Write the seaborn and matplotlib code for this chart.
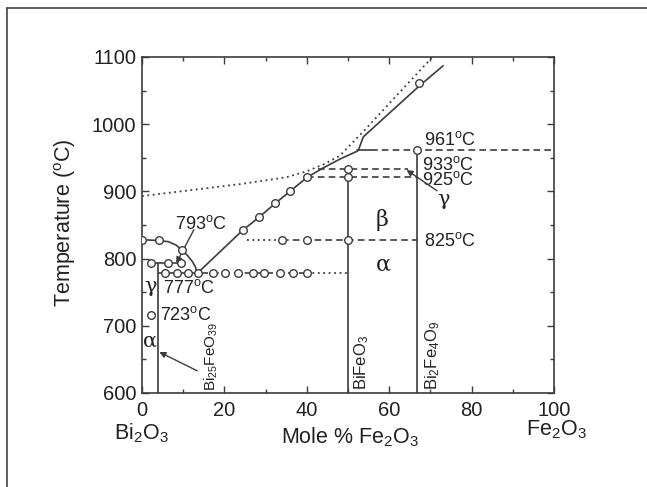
import matplotlib
matplotlib.use("Agg")
import matplotlib.pyplot as plt
import seaborn as sns
from matplotlib.lines import Line2D

# ---------------- data ----------------
# liquidus, Bi-rich side (eutectic -> 40 %)
liq_low_x = [13.4, 24.4, 28.5, 32.3, 35.9, 40.1, 44.0, 48.0, 52.3]
liq_low_t = [778, 842, 862, 882, 900, 921, 935, 948, 960]
liq_low_pts_x = [24.4, 28.5, 32.3, 35.9, 40.1]
liq_low_pts_t = [842, 862, 882, 900, 921]
# 961 °C segment (solid part)
seg961_x = [52.3, 55.7]
seg961_t = [961, 961]
# upper liquidus branch
liq_up_x = [52.5, 53.7, 57.8, 67.5, 73.1]
liq_up_t = [961, 981, 1004, 1058, 1087]
liq_up_pts_x = [67.3]
liq_up_pts_t = [1061]
# dotted (earlier reported) liquidus
dot_x = [0, 12, 24, 35, 40, 44, 48, 54, 62, 70.5]
dot_t = [893, 902, 911, 921, 930, 940, 953, 991, 1044, 1100]
# Bi-rich curve from ~828 °C down to the eutectic
curve_x = [0.0, 4.2, 6.5, 8.3, 9.6, 11.0, 12.3, 13.0, 13.4]
curve_t = [828, 827, 825, 820, 813, 805, 795, 787, 778]
curve_pts_x = [0.0, 4.2, 9.6]
curve_pts_t = [828, 827, 813]
# 793 °C line
l793_x = [2.1, 10.5]
l793_pts_x = [2.1, 6.2, 9.5]
# 777 °C line
l777_dash_x = [4.0, 40.1]
l777_dot_x = [40.1, 50.0]
l777_pts_x = [5.6, 8.4, 11.2, 13.6, 17.3, 20.1, 23.4, 26.9, 29.7, 33.5, 36.7, 40.1]
T777 = 778
# 723 °C point
p723_x, p723_t = [2.1], [716]
# 825 °C line
l825_dot_x = [25.4, 33.9]
l825_dash_x = [33.9, 66.7]
l825_pts_x = [33.9, 40.1, 50.0]
T825 = 828
# 933 / 925 / 961 lines
l933_x = [42.8, 64.5]
T933 = 934
l925_x = [40.1, 66.7]
T925 = 921
l961_x = [55.7, 100]
T961 = 961
# compounds (mole % Fe2O3) and top of their vertical lines
comp_x = [3.85, 50.0, 66.7]
comp_top = [793, 934, 961]
comp_pts_x = [50.0, 50.0, 66.7]
comp_pts_t = [934, 921, 961]

xticks = [0, 20, 40, 60, 80, 100]
yticks = [600, 700, 800, 900, 1000, 1100]

# ---------------- style ----------------
sns.set_theme(style="ticks")
plt.rcParams['font.family'] = ['Liberation Sans', 'DejaVu Sans']
plt.rcParams['mathtext.fontset'] = 'custom'
plt.rcParams['mathtext.rm'] = 'Liberation Sans'
plt.rcParams['mathtext.it'] = 'Liberation Sans'
C = '#3c3c3c'
TC = '#222222'
FS = 14.5
LFS = 15.5
AFS = 13

fig = plt.figure(figsize=(6.47, 4.87), dpi=100)
ax = fig.add_axes([142/647, 1-393/487, 412/647, 336/487])

lw = 1.2
def line(x, y, ls='-', lw=lw):
    sns.lineplot(x=x, y=y, ax=ax, color=C, lw=lw, linestyle=ls, sort=False, estimator=None)

def pts(x, y):
    sns.scatterplot(x=x, y=y, ax=ax, s=30, facecolor='white', edgecolor=C, linewidth=1.0, zorder=5)

dash = (0, (4, 2.5))
dots = (0, (1, 2))

line(liq_low_x, liq_low_t)
line(seg961_x, seg961_t)
line(liq_up_x, liq_up_t)
line(dot_x, dot_t, ls=dots, lw=1.3)
line(curve_x, curve_t)
line(l793_x, [793]*2)
line(l777_dash_x, [T777]*2, ls=dash)
line(l777_dot_x, [T777]*2, ls=dots, lw=1.3)
line(l825_dot_x, [T825]*2, ls=dots, lw=1.3)
line(l825_dash_x, [T825]*2, ls=dash)
line(l933_x, [T933]*2, ls=dash)
line(l925_x, [T925]*2, ls=dash)
line(l961_x, [T961]*2, ls=dash)
for cx, ct in zip(comp_x, comp_top):
    line([cx, cx], [600, ct])

pts(liq_low_pts_x, liq_low_pts_t)
pts(liq_up_pts_x, liq_up_pts_t)
pts(curve_pts_x, curve_pts_t)
pts(l793_pts_x, [793]*len(l793_pts_x))
pts(l777_pts_x, [T777]*len(l777_pts_x))
pts(p723_x, p723_t)
pts(l825_pts_x, [T825]*len(l825_pts_x))
pts(comp_pts_x, comp_pts_t)

ax.set_xlim(0, 100)
ax.set_ylim(600, 1100)
ax.set_xticks(xticks)
ax.set_yticks(yticks)
ax.set_xticks(range(10, 100, 20), minor=True)
ax.set_yticks(range(650, 1100, 100), minor=True)
ax.tick_params(which='both', direction='in', top=True, right=True, color=C,
               labelsize=FS, labelcolor=TC)
ax.tick_params(which='major', length=5, width=1)
ax.tick_params(which='minor', length=3, width=1)
ax.tick_params(axis='x', pad=6)
ax.tick_params(axis='y', pad=4)
for s in ax.spines.values():
    s.set_color(C)
    s.set_linewidth(1.2)
ax.set_xlabel('')
ax.set_ylabel('')

fig.text(65/647, 1-223/487, 'Temperature ($^{\\rm o}$C)', rotation=90, ha='center', va='center',
         fontsize=LFS, color=TC)
fig.text(350/647, 1-437/487, 'Mole % Fe$_2$O$_3$', ha='center', va='center', fontsize=LFS, color=TC)
fig.text(141/647, 1-433/487, 'Bi$_2$O$_3$', ha='center', va='center', fontsize=LFS, color=TC)
fig.text(556/647, 1-430/487, 'Fe$_2$O$_3$', ha='center', va='center', fontsize=LFS, color=TC)

tk = dict(fontsize=AFS, color=TC)
ax.text(14.2, 852, '793$^{\\rm o}$C', ha='center', va='center', **tk)
ax.text(5.0, 756, '777$^{\\rm o}$C', ha='left', va='center', **tk)
ax.text(4.4, 716, '723$^{\\rm o}$C', ha='left', va='center', **tk)
ax.text(68.4, 977, '961$^{\\rm o}$C', ha='left', va='center', **tk)
ax.text(68.0, 940, '933$^{\\rm o}$C', ha='left', va='center', **tk)
ax.text(68.0, 917, '925$^{\\rm o}$C', ha='left', va='center', **tk)
ax.text(68.4, 826, '825$^{\\rm o}$C', ha='left', va='center', **tk)

gk = dict(fontsize=15, color=TC, family='DejaVu Serif')
ax.text(2.0, 758, 'γ', ha='center', va='center', **gk)
ax.text(2.0, 678, 'α', ha='center', va='center', **gk)
ax.text(58.3, 858, 'β', ha='center', va='center', fontsize=16, color=TC, family='DejaVu Serif')
ax.text(58.6, 791, 'α', ha='center', va='center', fontsize=16, color=TC, family='DejaVu Serif')
ax.text(73.2, 888, 'γ', ha='center', va='center', **gk)

ax.text(16.8, 603, 'Bi$_{25}$FeO$_{39}$', rotation=90, ha='center', va='bottom', fontsize=11, color=TC)
ax.text(53.4, 604, 'BiFeO$_3$', rotation=90, ha='center', va='bottom', fontsize=12, color=TC)
ax.text(70.6, 604, 'Bi$_2$Fe$_4$O$_9$', rotation=90, ha='center', va='bottom', fontsize=12, color=TC)

ap = dict(arrowstyle='-|>', color=C, lw=1.0, mutation_scale=9, shrinkA=0, shrinkB=0)
ax.annotate('', xy=(8.3, 793), xytext=(12.6, 843), arrowprops=ap)
ax.annotate('', xy=(4.2, 661), xytext=(13.4, 633), arrowprops=ap)
ax.annotate('', xy=(64.2, 932), xytext=(71.6, 901), arrowprops=ap)

# outer frame of the figure
fig.add_artist(Line2D([7/647, 1.0], [1-8/487, 1-8/487], transform=fig.transFigure, color='#444444', lw=1.2))
fig.add_artist(Line2D([7/647, 7/647], [0, 1-8/487], transform=fig.transFigure, color='#444444', lw=1.2))

fig.savefig('out.png', dpi=100)
